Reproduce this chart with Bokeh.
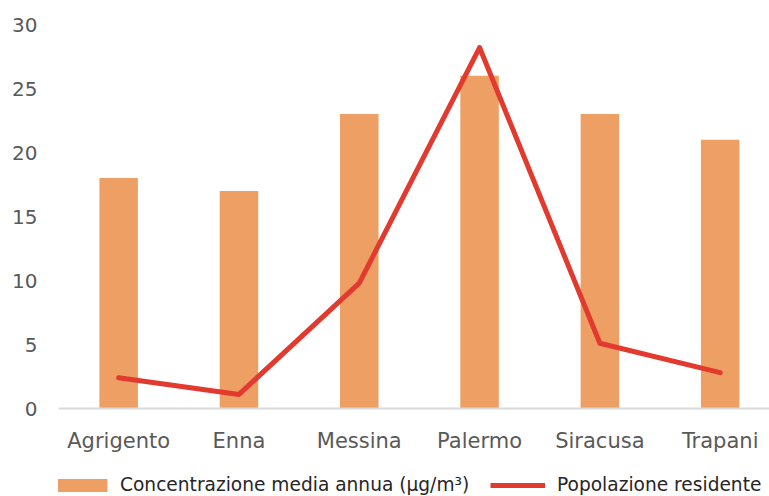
from bokeh.plotting import figure
from bokeh.layouts import column
from bokeh.models import (Range1d, FixedTicker, Legend, LegendItem, ColumnDataSource)
from bokeh.embed import file_html
from bokeh.resources import INLINE

categories = ["Agrigento", "Enna", "Messina", "Palermo", "Siracusa", "Trapani"]
concentrazione = [18, 17, 23, 26, 23, 21]
popolazione = [2.4, 1.1, 9.8, 28.2, 5.1, 2.8]
y_ticks = [0, 5, 10, 15, 20, 25, 30]
legend_labels = ["Concentrazione media annua (µg/m³)", "Popolazione residente"]

xpos = list(range(len(categories)))
src = ColumnDataSource(dict(x=xpos, conc=concentrazione, pop=popolazione))

FONT = "DejaVu Sans"
BAR = "#EE9F63"
LINE = "#E23A2E"

p = figure(width=769, height=456, output_backend="svg", toolbar_location=None,
           x_range=Range1d(-0.5, 5.41), y_range=Range1d(0, 30),
           min_border_left=58, min_border_right=0, min_border_top=24,
           min_border_bottom=48)
p.outline_line_color = None
p.xgrid.grid_line_color = None
p.ygrid.grid_line_color = None

bars = p.vbar(x="x", top="conc", width=0.32, source=src, fill_color=BAR, line_color=None)
line = p.line(x="x", y="pop", source=src, line_color=LINE, line_width=5,
              line_join="round", line_cap="round")

p.xaxis.ticker = FixedTicker(ticks=xpos)
p.xaxis.major_label_overrides = {i: c for i, c in enumerate(categories)}
p.xaxis.axis_line_color = "#D9D9D9"
p.xaxis.axis_line_width = 2
p.xaxis.major_tick_line_color = None
p.xaxis.minor_tick_line_color = None
p.xaxis.major_tick_out = 0
p.xaxis.major_tick_in = 0
p.xaxis.major_label_standoff = 20
p.xaxis.major_label_text_font = FONT
p.xaxis.major_label_text_font_size = "21px"
p.xaxis.major_label_text_color = "#595959"

p.yaxis.ticker = FixedTicker(ticks=y_ticks)
p.yaxis.axis_line_color = None
p.yaxis.major_tick_line_color = None
p.yaxis.minor_tick_line_color = None
p.yaxis.major_tick_out = 0
p.yaxis.major_tick_in = 0
p.yaxis.major_label_standoff = 21
p.yaxis.major_label_text_font = FONT
p.yaxis.major_label_text_font_size = "20px"
p.yaxis.major_label_text_color = "#595959"

# legend strip below the chart (its renderers share the data but lie outside its view)
p2 = figure(width=769, height=40, output_backend="svg", toolbar_location=None,
            x_range=Range1d(100, 101), y_range=Range1d(100, 101),
            min_border=0, x_axis_type=None, y_axis_type=None)
p2.outline_line_color = None
p2.xgrid.grid_line_color = None
p2.ygrid.grid_line_color = None
lbar = p2.vbar(x="x", top="conc", width=0.32, source=src, fill_color=BAR, line_color=None)
lline = p2.line(x="x", y="pop", source=src, line_color=LINE, line_width=5)

def mk_legend(label, r, gw, gh, loc, standoff):
    lg = Legend(items=[LegendItem(label=label, renderers=[r], index=0)], location=loc,
                orientation="horizontal", glyph_width=gw, glyph_height=gh,
                label_standoff=standoff, padding=0, margin=0, spacing=0,
                border_line_color=None, background_fill_alpha=0,
                label_text_font=FONT, label_text_font_size="18.6px",
                label_text_color="#262626", label_height=gh)
    p2.add_layout(lg, "center")

mk_legend(legend_labels[0], lbar, 71, 16, (-15, 1), 6)
mk_legend(legend_labels[1], lline, 55, 16, (432, 1), 12)

layout = column(p, p2, spacing=0)
open("out.html", "w").write(file_html(layout, INLINE))
